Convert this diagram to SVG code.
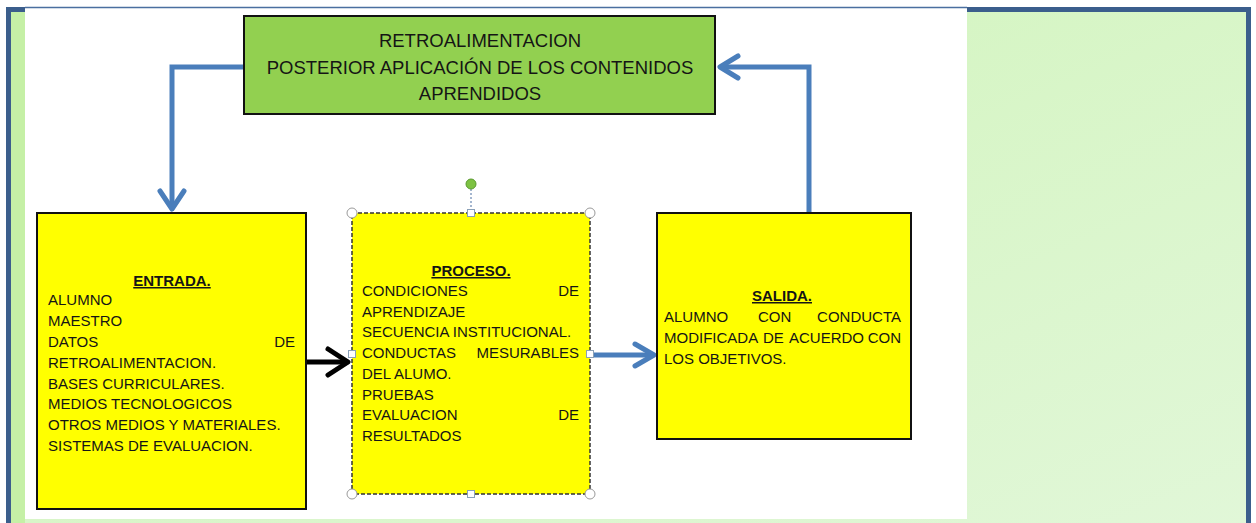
<svg xmlns="http://www.w3.org/2000/svg" width="1256" height="523" viewBox="0 0 1256 523">
<style>
.t{font-family:"Liberation Sans",Arial,sans-serif;font-size:15px;fill:#151515}
.h{font-family:"Liberation Sans",Arial,sans-serif;font-size:15px;font-weight:bold;fill:#151515;text-decoration:underline;text-anchor:middle}
.top{font-family:"Liberation Sans",Arial,sans-serif;font-size:18.5px;fill:#151515;text-anchor:middle}
.box{fill:#ffff00;stroke:#111;stroke-width:2}
.blue{fill:none;stroke:#4a7ebb;stroke-width:5;stroke-linejoin:miter}
.bh{fill:none;stroke:#4a7ebb;stroke-width:5;stroke-linecap:round;stroke-linejoin:round}
.blk{fill:none;stroke:#000;stroke-width:5;stroke-linecap:round;stroke-linejoin:round}
.hc{fill:#fff;stroke:#9a9a9a;stroke-width:1}
.hs{fill:#fff;stroke:#8aa0b8;stroke-width:1}
</style>
<defs>
<linearGradient id="gr" x1="0" y1="0" x2="1" y2="1">
<stop offset="0" stop-color="#cff4b8"/>
<stop offset="1" stop-color="#e1f7d8"/>
</linearGradient>
</defs>
<rect x="0" y="0" width="1256" height="523" fill="#fff"/>
<rect x="8.5" y="9.5" width="1240" height="520" fill="url(#gr)" stroke="#3b5e8c" stroke-width="5"/>
<rect x="11" y="12" width="14" height="511" fill="#c5f0a6"/>
<rect x="25" y="7" width="942" height="512" fill="#fff"/>
<line x1="25" y1="7.5" x2="967" y2="7.5" stroke="#4a6fa0" stroke-width="1.5"/>

<g id="connectors">
<polyline class="blue" points="244,67 172,67 172,208"/>
<polyline class="bh" points="160,191 172,209 184,191"/>
<polyline class="blue" points="809,213 809,67 721,67"/>
<polyline class="bh" points="738,56 720,67 738,78"/>
<polyline class="blk" points="306,362 347,362"/>
<polyline class="blk" points="328,349 348,362 328,375"/>
<line class="blue" x1="594" y1="355" x2="653" y2="355"/>
<polyline class="bh" points="635,344 654,355 635,366"/>
</g>

<g id="retro">
<rect x="244" y="16" width="471" height="98" fill="#92d050" stroke="#111" stroke-width="2"/>
<text class="top" x="480" y="47">RETROALIMENTACION</text>
<text class="top" x="480" y="74">POSTERIOR APLICACIÓN DE LOS CONTENIDOS</text>
<text class="top" x="480" y="100">APRENDIDOS</text>
</g>

<g id="entrada">
<rect class="box" x="37" y="213" width="269" height="296"/>
<text class="h" x="172" y="286">ENTRADA.</text>
<text class="t" x="48" y="305">ALUMNO</text>
<text class="t" x="48" y="325.5">MAESTRO</text>
<text class="t" x="48" y="347">DATOS</text>
<text class="t" x="295" y="347" text-anchor="end">DE</text>
<text class="t" x="48" y="368">RETROALIMENTACION.</text>
<text class="t" x="48" y="388.5">BASES CURRICULARES.</text>
<text class="t" x="48" y="409">MEDIOS TECNOLOGICOS</text>
<text class="t" x="48" y="430">OTROS MEDIOS Y MATERIALES.</text>
<text class="t" x="48" y="450.5">SISTEMAS DE EVALUACION.</text>
</g>

<g id="proceso">
<rect x="352" y="213" width="238" height="281" fill="#ffff00" stroke="#333" stroke-width="1.5" stroke-dasharray="4 2"/>
<text class="h" x="471" y="276">PROCESO.</text>
<text class="t" x="362" y="296">CONDICIONES</text>
<text class="t" x="579" y="296" text-anchor="end">DE</text>
<text class="t" x="362" y="317">APRENDIZAJE</text>
<text class="t" x="362" y="337">SECUENCIA INSTITUCIONAL.</text>
<text class="t" x="362" y="358">CONDUCTAS</text>
<text class="t" x="579" y="358" text-anchor="end">MESURABLES</text>
<text class="t" x="362" y="378.5">DEL ALUMO.</text>
<text class="t" x="362" y="400">PRUEBAS</text>
<text class="t" x="362" y="420">EVALUACION</text>
<text class="t" x="579" y="420" text-anchor="end">DE</text>
<text class="t" x="362" y="441">RESULTADOS</text>
<line x1="471" y1="189" x2="471" y2="209" stroke="#4a6fa0" stroke-width="1" stroke-dasharray="2 2"/>
<circle cx="471" cy="184" r="5" fill="#7dc242" stroke="#5a9a30" stroke-width="1"/>
<circle class="hc" cx="352" cy="213" r="5"/>
<circle class="hc" cx="590" cy="213" r="5"/>
<circle class="hc" cx="352" cy="494" r="5"/>
<circle class="hc" cx="590" cy="494" r="5"/>
<rect class="hs" x="467.5" y="209.5" width="7" height="7"/>
<rect class="hs" x="467.5" y="490.5" width="7" height="7"/>
<rect class="hs" x="348.5" y="350.5" width="7" height="7"/>
<rect class="hs" x="586.5" y="350.5" width="7" height="7"/>
</g>

<g id="salida">
<rect class="box" x="657" y="213" width="254" height="226"/>
<text class="h" x="782" y="301">SALIDA.</text>
<text class="t" x="664" y="322">ALUMNO</text>
<text class="t" x="758" y="322">CON</text>
<text class="t" x="901" y="322" text-anchor="end">CONDUCTA</text>
<text class="t" x="664" y="343">MODIFICADA</text>
<text class="t" x="763" y="343">DE</text>
<text class="t" x="789" y="343">ACUERDO</text>
<text class="t" x="901" y="343" text-anchor="end">CON</text>
<text class="t" x="664" y="363.5">LOS OBJETIVOS.</text>
</g>
</svg>
